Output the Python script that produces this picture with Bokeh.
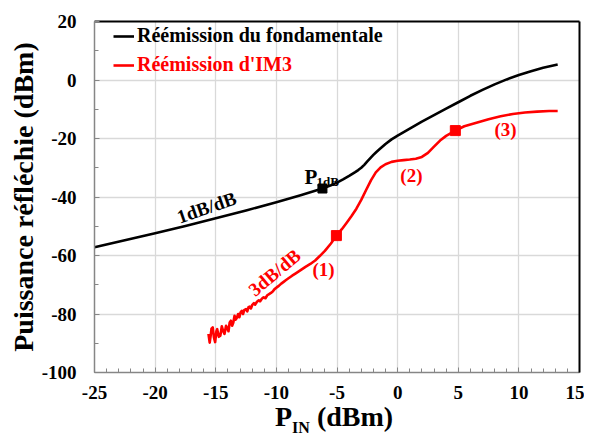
from bokeh.plotting import figure
from bokeh.layouts import column
from bokeh.models import (LinearAxis, Range1d, SingleIntervalTicker, Legend,
                          LegendItem, ColumnDataSource, Div, PrintfTickFormatter)
from bokeh.core.properties import value
from bokeh.embed import file_html
from bokeh.resources import INLINE
import math

FONT = "Liberation Serif"

# ---------------- data ----------------
fund_x = [-25, -22.5, -20, -17.5, -15, -12.5, -10, -8, -6.2, -5.5, -5, -4.5, -4, -3.5,
          -3.25, -3, -2.75, -2.5, -2.25, -2, -1.75, -1.5, -1, -0.5, 0, 1, 2, 3, 4, 5,
          6, 7, 8, 9, 10, 11, 12, 13.2]
fund_y = [-57.2, -54.8, -52.4, -49.9, -47.3, -44.6, -41.8, -39.4, -37.1, -36.0, -35.1,
          -34.0, -32.8, -31.5, -30.8, -30.0, -29.0, -27.8, -26.7, -25.6, -24.6, -23.7,
          -21.9, -20.3, -19.0, -16.6, -14.2, -12.0, -9.8, -7.6, -5.4, -3.4, -1.5, 0.2,
          1.7, 3.0, 4.2, 5.3]

im3_x = [-15.60, -15.50, -15.42, -15.35, -15.25, -15.15, -15.05, -14.95, -14.88, -14.75,
         -14.62, -14.50, -14.38, -14.28, -14.15, -14.05, -13.95, -13.85, -13.75, -13.65,
         -13.55, -13.45, -13.35, -13.25, -13.15, -13.05, -12.95, -12.85, -12.75, -12.65,
         -12.50, -12.40, -12.30, -12.20, -12.10, -12.00, -11.85, -11.75, -11.60, -11.45,
         -11.35, -11.20, -11.05, -10.90, -10.75, -10.60, -10.45, -10.30, -10.15, -10.00,
         -9.80, -9.60, -9.40, -9.20, -9.00, -8.70, -8.40, -8.00, -7.60, -7.20, -6.80,
         -6.40, -6.00, -5.50, -5.05, -4.60, -4.20, -3.80, -3.40, -3.00, -2.60, -2.20,
         -1.80, -1.40, -1.00, -0.50, 0, 0.5, 1.0, 1.5, 2.0, 2.5, 3.0, 3.5, 4.0, 4.76,
         5.5, 6.5, 7.5, 8.5, 9.5, 10.5, 11.5, 12.5, 13.2]
im3_y = [-86.8, -89.8, -87.5, -85.0, -84.6, -88.0, -89.6, -86.0, -85.2, -87.8,
         -87.4, -84.2, -85.9, -86.8, -84.0, -84.9, -85.9, -82.9, -82.3, -84.0,
         -82.9, -80.6, -81.9, -81.2, -80.0, -81.1, -79.4, -78.9, -80.0, -78.7,
         -78.3, -79.1, -77.7, -77.5, -78.1, -77.0, -76.3, -76.8, -75.8, -75.3,
         -75.7, -74.8, -74.3, -74.6, -73.6, -73.2, -72.8, -72.3, -71.5, -71.0,
         -70.4, -69.6, -69.0, -68.4, -67.8, -66.9, -66.1, -65.0, -63.9, -62.9, -61.7,
         -60.1, -58.4, -55.9, -53.2, -51.0, -48.8, -46.5, -44.0, -41.0, -37.6, -34.3,
         -31.6, -29.9, -28.8, -28.0, -27.6, -27.4, -27.2, -26.9, -26.3, -24.9, -22.8,
         -20.7, -19.1, -17.3, -15.8, -14.6, -13.4, -12.4, -11.6, -11.1, -10.8, -10.6, -10.6]

p1db_x = [-6.2]
p1db_y = [-37.1]
im3_mark_x = [-5.05, 4.76]
im3_mark_y = [-53.2, -17.3]

legend_labels = ["Réémission du fondamentale", "Réémission d'IM3"]
y_label = "Puissance réfléchie (dBm)"

zone_text = ["(1)", "(2)", "(3)"]
zone_x = [-6.11, 1.14, 8.9]
zone_y = [-64.8, -32.6, -16.9]

slope_text = ["1dB/dB", "3dB/dB"]
slope_x = [-15.76, -10.15]
slope_y = [-43.6, -65.8]
slope_angle_deg = [19, 40]
slope_color = ["black", "red"]

# ---------------- figure ----------------
p = figure(frame_width=485, frame_height=351, output_backend="svg",
           toolbar_location=None, x_range=Range1d(-25, 15), y_range=Range1d(-100, 20),
           min_border_left=94, min_border_right=5, min_border_top=21,
           min_border_bottom=36)
p.outline_line_color = None
p.background_fill_color = "white"
p.border_fill_color = "white"

xt = SingleIntervalTicker(interval=5, num_minor_ticks=5)
yt = SingleIntervalTicker(interval=20, num_minor_ticks=2)
p.xaxis.ticker = xt
p.yaxis.ticker = yt
p.xgrid.ticker = xt
p.ygrid.ticker = yt
for g in (p.xgrid, p.ygrid):
    g.grid_line_color = "#d9d9d9"
    g.grid_line_width = 1.3

for ax in (p.xaxis, p.yaxis):
    ax.formatter = PrintfTickFormatter(format="%d")
    ax.axis_line_color = "#868686"
    ax.axis_line_width = 1.5
    ax.major_tick_line_color = "#868686"
    ax.minor_tick_line_color = "#868686"
    ax.major_tick_in = 5
    ax.major_tick_out = 0
    ax.minor_tick_in = 4
    ax.minor_tick_out = 0
    ax.major_label_text_font = FONT
    ax.major_label_text_font_style = "bold"
    ax.major_label_text_font_size = "19px"
    ax.major_label_text_color = "black"

p.yaxis.major_label_standoff = 18
p.xaxis.major_label_standoff = 13
p.yaxis.axis_label = y_label
p.yaxis.axis_label_text_font = FONT
p.yaxis.axis_label_text_font_style = "bold"
p.yaxis.axis_label_text_font_size = "28px"
p.yaxis.axis_label_text_color = "black"
p.yaxis.axis_label_standoff = 0

# black frame on top and right
for side in ("above", "right"):
    ax = LinearAxis(ticker=[], axis_line_color="black", axis_line_width=2,
                    major_tick_in=0, major_tick_out=0, minor_tick_in=0, minor_tick_out=0,
                    major_label_text_font_size="0px")
    p.add_layout(ax, side)

# ---------------- curves ----------------
r_fund = p.line(fund_x, fund_y, line_color="black", line_width=2.6, line_join="round")
r_im3 = p.line(im3_x, im3_y, line_color="red", line_width=2.6, line_join="round")

p.scatter(p1db_x, p1db_y, marker="square", size=9, color="black")
p.scatter(im3_mark_x, im3_mark_y, marker="square", size=10, color="red")

# ---------------- annotations ----------------
p.text(zone_x, zone_y, text=zone_text, text_color="red", text_font=value(FONT),
       text_font_style="bold", text_font_size="19px", text_align="center",
       text_baseline="middle")

src = ColumnDataSource(dict(x=slope_x, y=slope_y, t=slope_text,
                            a=[math.radians(a) for a in slope_angle_deg], c=slope_color))
p.text("x", "y", text="t", angle="a", text_color="c", source=src, text_font=value(FONT),
       text_font_style="bold", text_font_size="19px", text_align="center",
       text_baseline="middle")

p.text([-7.68], [-33.3], text=["P"], text_color="black", text_font=value(FONT),
       text_font_style="bold", text_font_size="21px", text_baseline="alphabetic")
p.text([-6.69], [-34.7], text=["1dB"], text_color="black", text_font=value(FONT),
       text_font_style="bold", text_font_size="13px", text_baseline="alphabetic")

# ---------------- legends ----------------
leg_kw = dict(label_text_font=FONT, label_text_font_style="bold",
              label_text_font_size="20px", glyph_width=21, glyph_height=20,
              label_standoff=3, padding=0, margin=0, spacing=0,
              background_fill_alpha=0, border_line_color=None, label_height=20)
leg1 = Legend(items=[LegendItem(label=legend_labels[0], renderers=[r_fund])],
              location=(19, 325), label_text_color="black", **leg_kw)
leg2 = Legend(items=[LegendItem(label=legend_labels[1], renderers=[r_im3])],
              location=(19, 296), label_text_color="red", **leg_kw)
p.add_layout(leg1, "center")
p.add_layout(leg2, "center")

# x axis label with subscript
xlab = Div(width=584, height=33,
           text='<div style="font-family:\'Liberation Serif\';font-weight:bold;'
                'font-size:28px;line-height:28px;margin-top:-10px;padding-left:270px;'
                'white-space:nowrap;color:black;">P<sub style="font-size:16px;'
                'line-height:0;">IN</sub> (dBm)</div>')

layout = column(p, xlab, spacing=0)
open("out.html", "w").write(file_html(layout, INLINE))
